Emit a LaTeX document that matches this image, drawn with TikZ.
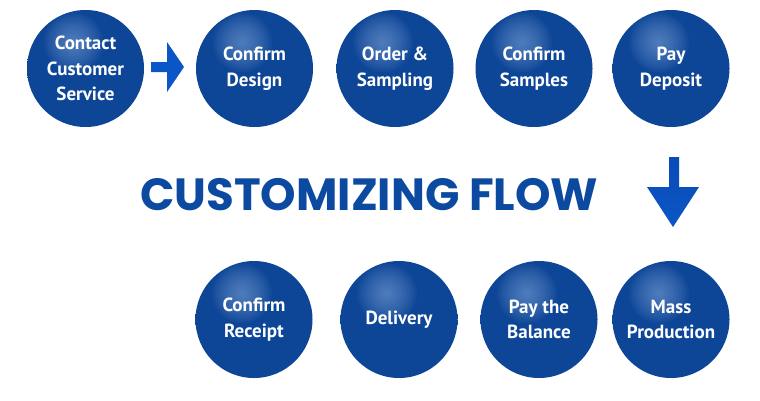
\documentclass[tikz,border=0pt]{standalone}
\usepackage{fontspec}
\usetikzlibrary{calc}
\setmainfont{PT Sans}
\newfontfamily\titlefont{Poppins}
\definecolor{basec}{HTML}{0D4597}
\definecolor{hlc}{HTML}{7FA6DA}
\definecolor{darkc}{HTML}{073379}
\definecolor{titlec}{HTML}{0B4AA0}
\definecolor{arrowc}{HTML}{0A56C6}
\definecolor{arrowtop}{HTML}{0A4CB6}
\pgfdeclareradialshading{sphere}{\pgfpoint{-4bp}{6bp}}{%
  color(0bp)=(basec); color(36bp)=(basec); color(56bp)=(darkc); color(60bp)=(darkc)}
\tikzset{
  ball/.style={circle, minimum size=117pt, inner sep=0pt, shading=sphere,
    text=white, align=center, font=\bfseries\fontsize{19}{25.5}\selectfont,
    path picture={\foreach \r in {2,4,...,30}{%
      \fill[hlc, opacity=0.06] ($(path picture bounding box.center)+(-12,-26)$) circle (\r pt);}}},
  bigarrow/.style={fill=arrowc, draw=none}
}
\begin{document}
\begin{tikzpicture}[x=1pt,y=-1pt]
\useasboundingbox (0,0) rectangle (760,400);
\fill[white] (0,0) rectangle (760,400);
% top row
\node[ball] (c1) at (85.5,68.5) {Contact\\Customer\\Service};
\node[ball] (c2) at (254.5,68.5) {Confirm\\Design};
\node[ball] (c3) at (395,68.5) {Order \&\\Sampling};
\node[ball] (c4) at (534,68.5) {Confirm\\Samples};
\node[ball] (c5) at (671,68.5) {Pay\\Deposit};
% bottom row
\node[ball] (d1) at (254,319.5) {Confirm\\Receipt};
\node[ball] (d2) at (399,319.5) {Delivery};
\node[ball] (d3) at (539,319.5) {Pay the\\Balance};
\node[ball] (d4) at (671,319.5) {Mass\\Production};
% title
\node[text=titlec, inner sep=0pt, anchor=base west] (title) at (140,210)
  {\resizebox{458pt}{!}{\titlefont\bfseries\fontsize{34}{40}\selectfont CUSTOMIZING FLOW}};
% right arrow
\coordinate (ra) at (151,67);
\fill[bigarrow] (ra) ++(0,-5) -- ++(16,0) -- ++(0,-20) -- (184,67) -- (167,92) -- (167,72) -- (151,72) -- cycle;
% down arrow
\coordinate (da) at (674,157);
\shade[top color=arrowtop, bottom color=arrowc] (669,157) -- (679,157) -- (679,187) -- (699,187) -- (673,227) -- (647,187) -- (669,187) -- cycle;
\end{tikzpicture}
\end{document}
